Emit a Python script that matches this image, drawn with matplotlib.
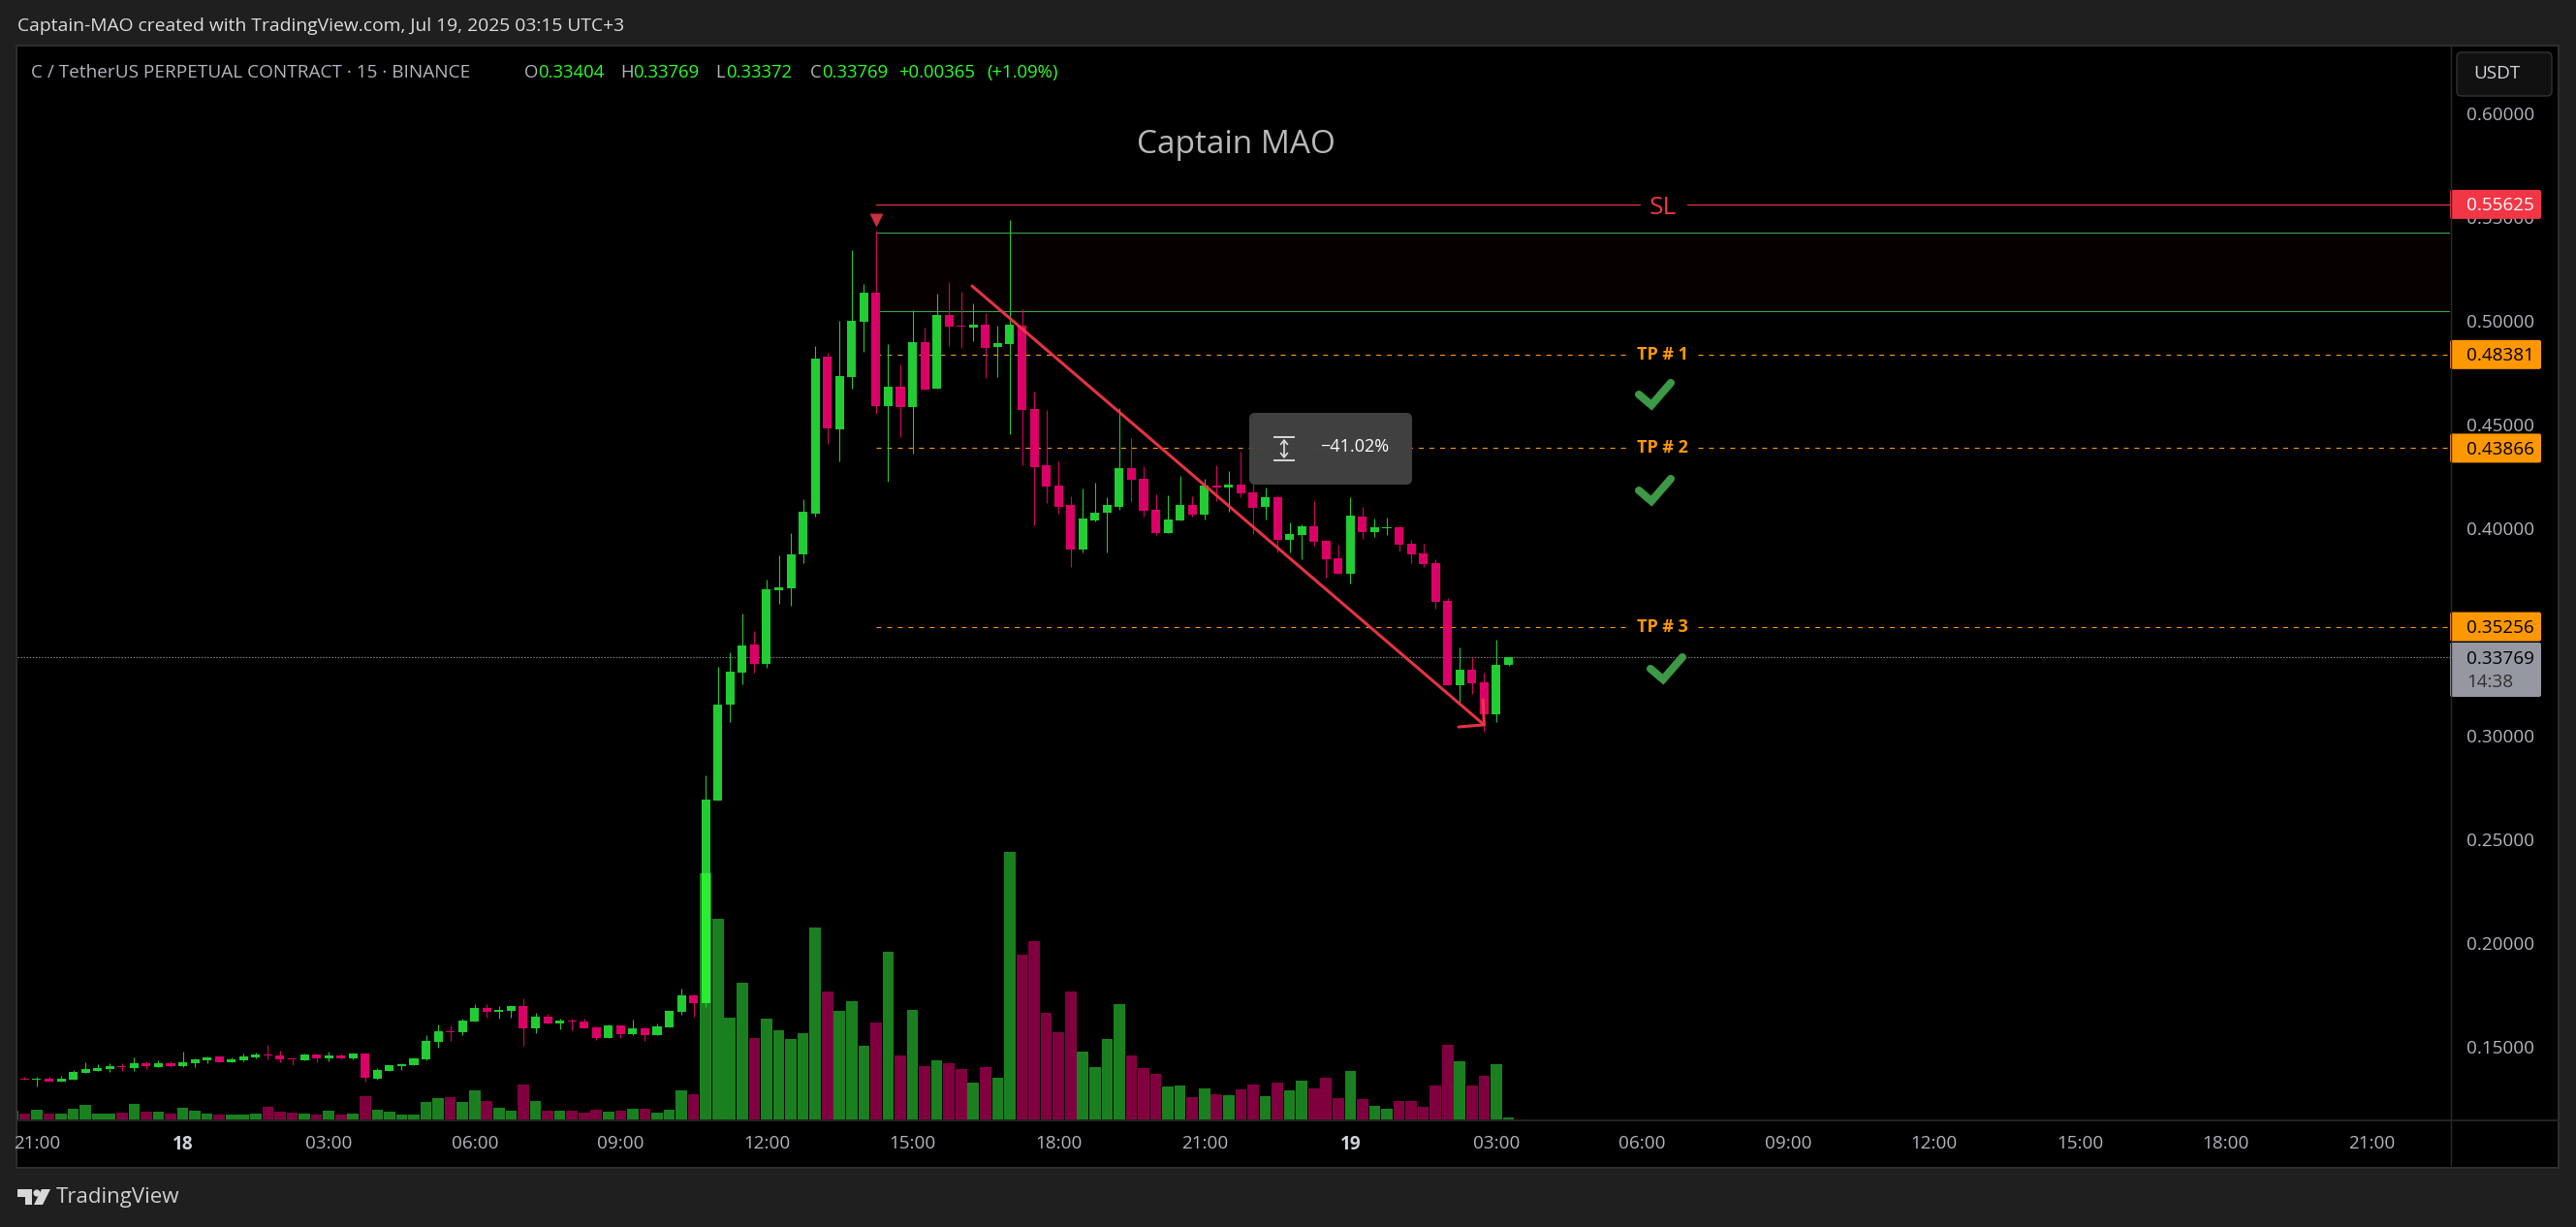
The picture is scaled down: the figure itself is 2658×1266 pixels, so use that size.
import matplotlib
matplotlib.use("Agg")
import matplotlib.pyplot as plt
from matplotlib.patches import Rectangle, FancyBboxPatch, Polygon, Circle
import numpy as np

plt.rcParams['font.family'] = ['Open Sans', 'DejaVu Sans']
plt.rcParams['lines.scale_dashes'] = False

opens = [.1332,.1344,.1341,.1344,.1330,.1340,.1372,.1382,.1391,.1405,.1396,.1419,.1400,.1419,.1405,.1419,.1433,.1452,.1424,.1433,
 .1447,.1461,.1456,.1442,.1433,.1461,.1442,.1456,.1442,.1466,.1344,.1382,.1405,.1410,.1438,.1522,.1573,.1569,.1620,.1686,
 .1667,.1672,.1695,.1588,.1644,.1611,.1625,.1620,.1592,.1541,.1602,.1559,.1588,.1555,.1592,.1667,.1747,.1710,.2687,.3148,
 .3304,.3439,.3346,.3701,.3710,.3873,.4070,.4828,.4478,.4730,.4996,.5136,.4590,.4683,.4585,.4899,.4673,.5029,.4977,.4969,
 .4982,.4875,.4889,.4977,.4575,.4304,.4206,.4112,.3897,.4037,.4075,.4104,.4291,.4239,.4089,.3977,.4038,.4113,.4066,.4206,
 .4197,.4211,.4173,.4103,.4150,.3944,.3968,.4010,.3940,.3855,.3781,.4057,.3982,.4001,.4005,.3926,.3879,.3832,.3650,.3243,
 .3318,.3257,.3103,.33404]
highs = [.1347,.1354,.1354,.1354,.1358,.1389,.1424,.1414,.1419,.1419,.1447,.1428,.1433,.1428,.1475,.1442,.1452,.1452,.1447,.1466,
 .1471,.1508,.1480,.1442,.1466,.1461,.1475,.1466,.1471,.1471,.1396,.1410,.1419,.1447,.1555,.1606,.1602,.1634,.1705,.1705,
 .1695,.1695,.1733,.1662,.1658,.1634,.1634,.1634,.1597,.1606,.1602,.1630,.1592,.1611,.1672,.1779,.1751,.2808,.3332,.3402,
 .3589,.3504,.3753,.3870,.3977,.4140,.4879,.4845,.5001,.5343,.5179,.5436,.4889,.4790,.5052,.4969,.5132,.5188,.5141,.5086,
 .5039,.4977,.5486,.5057,.4660,.4571,.4322,.4154,.4192,.4221,.4150,.4580,.4434,.4299,.4164,.4159,.4253,.4155,.4239,.4304,
 .4276,.4370,.4226,.4197,.4159,.4028,.4019,.4131,.3944,.3921,.4150,.4103,.4047,.4052,.4010,.3944,.3926,.3851,.3664,.3425,
 .3379,.3304,.3463,.33769]
lows = [.1330,.1340,.1307,.1330,.1330,.1340,.1372,.1382,.1377,.1382,.1382,.1391,.1400,.1400,.1400,.1400,.1419,.1424,.1424,.1428,
 .1442,.1438,.1424,.1410,.1433,.1424,.1428,.1438,.1438,.1330,.1340,.1382,.1386,.1410,.1433,.1494,.1527,.1555,.1620,.1639,
 .1634,.1639,.1503,.1564,.1611,.1583,.1578,.1588,.1531,.1541,.1541,.1555,.1527,.1555,.1592,.1653,.1644,.1691,.2687,.3066,
 .3247,.3304,.3327,.3636,.3626,.3831,.4057,.4408,.4322,.4673,.4852,.4551,.4224,.4439,.4361,.4668,.4673,.4879,.4870,.4902,
 .4725,.4730,.4454,.4304,.4014,.4122,.4070,.3813,.3883,.4032,.3883,.4090,.4127,.4057,.3967,.3977,.4038,.4057,.4043,.4131,
 .4080,.4150,.3972,.4043,.3884,.3884,.3851,.3916,.3762,.3781,.3734,.3949,.3958,.3968,.3888,.3832,.3814,.3612,.3243,.3159,
 .3201,.3019,.3065,.33372]
closes = [.1344,.1341,.1344,.1330,.1344,.1377,.1391,.1396,.1405,.1400,.1419,.1405,.1419,.1405,.1424,.1438,.1447,.1424,.1438,.1452,
 .1461,.1458,.1438,.1438,.1461,.1442,.1456,.1442,.1466,.1349,.1386,.1410,.1414,.1442,.1527,.1573,.1569,.1625,.1686,.1667,
 .1676,.1695,.1588,.1644,.1611,.1625,.1620,.1588,.1541,.1602,.1559,.1588,.1555,.1597,.1672,.1747,.1709,.2691,.3150,.3309,
 .3434,.3346,.3706,.3715,.3873,.4080,.4818,.4481,.4735,.5001,.5136,.4590,.4683,.4585,.4899,.4668,.5029,.4972,.4972,.4982,
 .4870,.4894,.4982,.4571,.4294,.4201,.4104,.3897,.4047,.4075,.4112,.4291,.4234,.4084,.3977,.4043,.4113,.4066,.4206,.4197,
 .4211,.4169,.4099,.4150,.3944,.3972,.4010,.3935,.3851,.3781,.4061,.3982,.4005,.4005,.3921,.3874,.3828,.3645,.3243,.3318,
 .3252,.3103,.33404,.33769]
volumes = [.9,.6,1.0,.6,.6,1.1,1.5,.6,.6,.7,1.6,.8,.8,.6,1.2,.9,.6,.5,.5,.5,
 .6,1.3,.8,.7,.6,.5,.9,.5,.6,2.4,1.0,.8,.5,.5,1.8,2.2,2.3,1.8,3.0,1.9,
 1.2,.9,3.6,1.9,.9,.9,.9,.7,1.0,.8,.9,1.1,1.1,.7,1.0,3.0,2.6,25.4,20.7,10.5,
 14.1,8.4,10.4,9.2,8.3,8.9,19.8,13.2,11.2,12.2,7.6,10.0,17.3,6.6,11.3,5.5,6.1,5.8,5.2,3.8,
 5.4,4.3,27.6,17.0,18.4,11.0,9.0,13.2,7.0,5.4,8.3,11.9,6.6,5.3,4.7,3.4,3.5,2.3,3.2,2.6,
 2.5,3.1,3.6,2.4,3.8,3.0,4.0,3.2,4.3,2.2,5.0,2.1,1.4,1.1,1.9,1.9,1.3,3.5,7.7,6.0,
 3.5,4.5,5.7,.2]

price_ticks = [.15,.20,.25,.30,.35,.40,.45,.50,.55,.60]
time_ticks = [2,14,26,38,50,62,74,86,98,110,122,134,146,158,170,182,194]
time_labels = ['21:00','18','03:00','06:00','09:00','12:00','15:00','18:00','21:00','19','03:00','06:00','09:00','12:00','15:00','18:00','21:00']

sl_price = .55625
tp_prices = [.48381,.43866,.35256]
tp_names = ['TP # 1','TP # 2','TP # 3']
zone_top, zone_bottom = .5426,.5047
last_price = .33769
entry_bar, entry_marker = 71,.5487
sl_gap = (133.76,137.67)
tp_gap = (132.76,138.58)
arrow_start = (78.9,.5169)
arrow_end = (121.0,.3052)
arrow_leg_a = (118.9,.3042)
arrow_leg_b = (120.9,.3174)

W,H = 2658,1266
BG,PANE,EDGE = '#1f1f1f','#000000','#2e2e2e'
GREEN,PINK = '#22cc33','#db0066'
VGREEN,VPINK = '#1a801f','#80003f'
ORANGE,RED = '#ff9800','#f23645'
GRAY = '#b2b5be'
UPTXT = '#2bff2b'

fig = plt.figure(figsize=(W/100,H/100),dpi=100,facecolor=BG)
def frac(l,t,r,b):
    return [l/W,1-b/H,(r-l)/W,(b-t)/H]

# black panel background
back = fig.add_axes([0,0,1,1],zorder=0); back.set_xlim(0,W); back.set_ylim(H,0); back.axis('off')
back.add_patch(Rectangle((17,47),2623,1158,fc=PANE,ec=EDGE,lw=1.5))

xlim = (0.41,200.41)
vax = fig.add_axes(frac(18,48,2528,1156),zorder=1)
vax.set_xlim(*xlim); vax.set_ylim(-.1,110.7); vax.axis('off')
ax = fig.add_axes(frac(18,48,2528,1156),zorder=2)
ax.set_xlim(*xlim); ax.set_ylim(.1144,.6324)
ax.patch.set_visible(False)
for s in ax.spines.values(): s.set_visible(False)

x = np.arange(len(opens))
o,h,l,c = map(np.array,(opens,highs,lows,closes))
up = c>=o
bars = vax.bar(x,np.array(volumes),width=.93,color=[VGREEN if u else VPINK for u in up],lw=0)

# levels
ax.add_patch(Rectangle((entry_bar,zone_bottom),xlim[1]-entry_bar,zone_top-zone_bottom,fc='#070000',ec='none',zorder=1))
for p in (zone_top,zone_bottom):
    ax.plot([entry_bar,xlim[1]],[p,p],color='#43a047',lw=.8,zorder=1.5)
for a,b in ((entry_bar,sl_gap[0]),(sl_gap[1],xlim[1])):
    ax.plot([a,b],[sl_price,sl_price],color=RED,lw=.8,zorder=1.5)
for p in tp_prices:
    for a,b in ((entry_bar,tp_gap[0]),(tp_gap[1],xlim[1])):
        ax.plot([a,b],[p,p],color=ORANGE,lw=.8,ls=(0,(3.6,4.3)),zorder=1.5)
ax.plot(xlim,[last_price,last_price],color='#808080',lw=.8,ls=(0,(1.1,1.1)),zorder=1.5)

# candles
cols = [GREEN if u else PINK for u in up]
ax.vlines(x,l,h,color=cols,lw=.75,zorder=2)
bot = np.minimum(o,c); hgt = np.abs(c-o)
bodies = ax.bar(x,hgt,bottom=bot,width=.72,color=cols,lw=0,zorder=3)
for i,vb in enumerate(bars):
    if up[i]:
        r = Rectangle((i-.36,bot[i]),.72,hgt[i],fc='#2bee33',ec='none',zorder=3.1)
        ax.add_patch(r); r.set_clip_path(vb)

# arrow
ax.plot(*zip(arrow_start,arrow_end),color=RED,lw=2.2,alpha=.95,zorder=4,solid_capstyle='round')
ax.plot(*zip(arrow_leg_a,arrow_end,arrow_leg_b),color=RED,lw=2.2,alpha=.95,zorder=4,solid_capstyle='round')
ax.plot([entry_bar],[entry_marker],marker='v',ms=10.5,color='#c93040',mec='none',zorder=4)

# axes
ax.yaxis.tick_right()
ax.set_yticks(price_ticks); ax.set_yticklabels([f'{v:.5f}' for v in price_ticks])
ax.tick_params(axis='y',length=0,pad=12,labelsize=13.6,labelcolor=GRAY)
ax.set_xticks(time_ticks); ax.set_xticklabels(time_labels)
ax.tick_params(axis='x',length=0,pad=11,labelsize=13.6,labelcolor=GRAY)
for t in ax.get_xticklabels():
    if t.get_text() in ('18','19'):
        t.set_fontweight('bold'); t.set_color('#d1d4dc')

# overlay in pixel space
ov = fig.add_axes([0,0,1,1],zorder=5); ov.set_xlim(0,W); ov.set_ylim(H,0); ov.axis('off'); ov.patch.set_visible(False)
fig.canvas.draw()
def py(p):
    return H-ax.transData.transform((0,p))[1]
def px(i):
    return ax.transData.transform((i,0))[0]

ov.plot([2528.5,2528.5],[48,1205],color='#2a2a2a',lw=1)
ov.plot([18,2640],[1156,1156],color='#2a2a2a',lw=1.2)

def T(xp,yp,s,size=13.6,color=GRAY,ha='left',**k):
    return ov.text(xp,yp,s,fontsize=size,color=color,ha=ha,va='center',**k)

T(18,26.5,'Captain-MAO created with TradingView.com, Jul 19, 2025 03:15 UTC+3',13.9,'#dcdcdc')
T(32,75,'C / TetherUS PERPETUAL CONTRACT · 15 · BINANCE',13.7)
for xl,lab,xv,val in ((540.5,'O',555,'0.33404'),(640,'H',653,'0.33769'),(738,'L',749,'0.33372'),(836,'C',848,'0.33769')):
    T(xl,75,lab,13.3); T(xv,75,val,13.3,UPTXT)
T(927,75,'+0.00365',13.3,UPTXT); T(1018,75,'(+1.09%)',13.3,UPTXT)
T(1275,150,'Captain MAO',24,'#b8b8b8',ha='center')
T(px(135.7),py(sl_price)+4,'SL',19,RED,ha='center')
for p,n in zip(tp_prices,tp_names):
    T(px(135.7),py(p),n,13,ORANGE,ha='center',fontweight='bold')

# check marks
for dx,dy in ((0,0),(0,99),(12,283)):
    ov.plot([1691+dx,1704+dx,1724+dx],[407+dy,418+dy,395+dy],color='#3d9946',lw=5.8,solid_joinstyle='miter',solid_capstyle='round')

# tooltip
ov.add_patch(FancyBboxPatch((1293,430),160,66,boxstyle='round,pad=4,rounding_size=6',fc='#434343',ec='none',alpha=.97))
T(1398,461.5,'\u221241.02%',13,'#ffffff',ha='center')
for yy in (451,475):
    ov.plot([1315,1335],[yy,yy],color='#d8d8d8',lw=1.4)
ov.annotate('',xy=(1325,453),xytext=(1325,473),arrowprops=dict(arrowstyle='<->,head_width=.25,head_length=.3',color='#e0e0e0',lw=1.2,shrinkA=0,shrinkB=0))

# price badges
def badge(p,txt,fc,tc):
    y = py(p)
    ov.add_patch(FancyBboxPatch((2529,y-14),92,28,boxstyle='round,pad=1,rounding_size=2',fc=fc,ec='none'))
    T(2545,y+1.5,txt,13.6,tc)
badge(sl_price,'0.55625',RED,'#ffffff')
for p in tp_prices:
    badge(p,f'{p:.5f}',ORANGE,'#000000')
yl = py(last_price)
ov.add_patch(FancyBboxPatch((2529,664),92,54,boxstyle='round,pad=1,rounding_size=2',fc='#9598a1',ec='none'))
T(2545,yl+1.5,'0.33769',13.6,'#000000'); T(2545,704,'14:38',13.6,'#303030')

# USDT button
ov.add_patch(FancyBboxPatch((2538,57),92,39,boxstyle='round,pad=3,rounding_size=5',fc='#111111',ec='#333333',lw=1))
T(2576,76,'USDT',13.6,'#d1d4dc',ha='center')

# footer logo
ov.add_patch(Polygon([(18,1227),(33,1227),(33,1243),(26,1243),(26,1235),(18,1235)],fc='#d8d8d8',ec='none'))
ov.add_patch(Circle((38,1231),3.6,fc='#d8d8d8',ec='none'))
ov.add_patch(Polygon([(43,1227),(52,1227),(44,1243),(35,1243)],fc='#d8d8d8',ec='none'))
T(58,1236,'TradingView',16,'#d0d0d0')

fig.savefig('out.png',dpi=100,facecolor=BG)
